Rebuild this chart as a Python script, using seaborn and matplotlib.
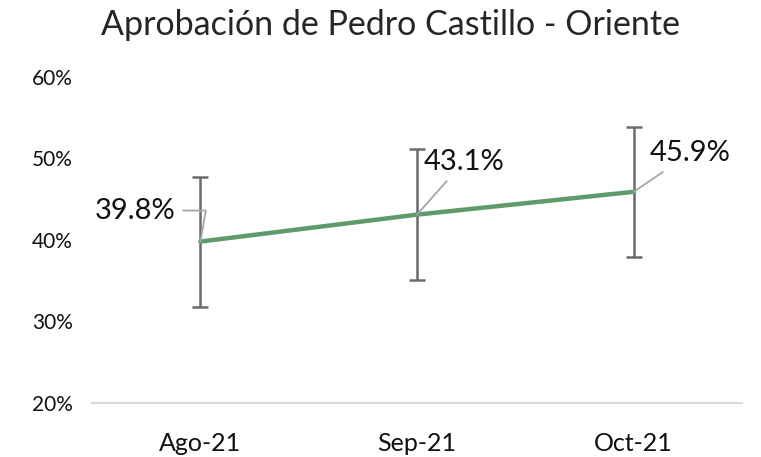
import matplotlib
matplotlib.use("Agg")
import matplotlib.pyplot as plt
import numpy as np
import pandas as pd
import seaborn as sns

# Data
months = ["Ago-21", "Sep-21", "Oct-21"]
approval = [39.8, 43.1, 45.9]
err_low = [8.0, 8.0, 8.0]
err_high = [7.9, 8.0, 7.9]
labels = ["39.8%", "43.1%", "45.9%"]
yticks = [20, 30, 40, 50, 60]

df = pd.DataFrame({"mes": months, "aprobacion": approval})

sns.set_theme(style="white")
plt.rcParams["font.family"] = ["Lato", "DejaVu Sans"]

fig = plt.figure(figsize=(7.61, 4.57), dpi=100)
ax = fig.add_axes([0.121, 0.118, 0.854, 0.714])

# error bars first so the line sits on top
ax.errorbar(np.arange(len(months)), approval, yerr=[err_low, err_high],
            fmt="none", ecolor="#6b6b6b", elinewidth=1.8, capsize=6, capthick=1.8, zorder=2)
sns.lineplot(data=df, x="mes", y="aprobacion", ax=ax, color="#5e9a6b",
             linewidth=3.2, sort=False, zorder=3)

# data labels with leader lines
label_pos = [(-0.115, 43.6, "right", "angle,angleA=0,angleB=80,rad=0"),
             (1.03, 49.6, "left", "arc3"),
             (2.075, 50.6, "left", "arc3")]
for i, (tx, ty, ha, conn) in enumerate(label_pos):
    ax.annotate(labels[i], xy=(i, approval[i]), xytext=(tx, ty),
                ha=ha, va="center", fontsize=21, color="#111111",
                arrowprops=dict(arrowstyle="-", color="#a6a6a6", lw=1.3,
                                shrinkA=3, shrinkB=0, connectionstyle=conn), zorder=4)

ax.set_xlim(-0.5, 2.5)
ax.set_ylim(20, 60)
ax.set_yticks(yticks)
ax.set_yticklabels([f"{v}%" for v in yticks], fontsize=15)
ax.tick_params(axis="x", labelsize=18, pad=15, colors="#111111")
ax.tick_params(axis="y", pad=8, colors="#111111")
ax.set_xlabel("")
ax.set_ylabel("")
for s in ["top", "right", "left"]:
    ax.spines[s].set_visible(False)
ax.spines["bottom"].set_color("#d9d9d9")
ax.spines["bottom"].set_linewidth(1.5)
ax.grid(False)

fig.suptitle("Aprobación de Pedro Castillo - Oriente", fontsize=24.5, x=0.513, y=0.98)

fig.savefig("out.png", dpi=100)
